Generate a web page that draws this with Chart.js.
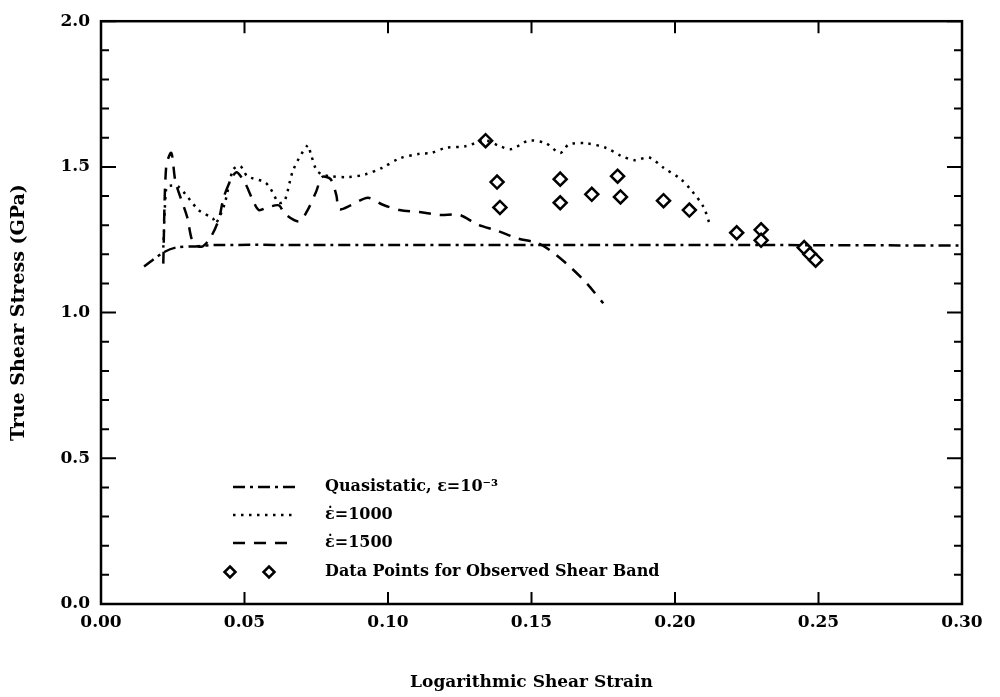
<!DOCTYPE html>
<html>
<head>
<meta charset="utf-8">
<script src="https://cdn.jsdelivr.net/npm/chart.js@4.4.1/dist/chart.umd.min.js"></script>
<style>
  html, body { margin: 0; padding: 0; background: #fff; }
  #wrap { width: 1000px; height: 697px; }
</style>
</head>
<body>
<div id="wrap"><canvas id="grafico" width="1000" height="697"></canvas></div>
<script>
// quasistatic curve
const quasiX = [0.015, 0.0217, 0.026, 0.034, 0.040, 0.080, 0.150, 0.220, 0.300];
const quasiY = [1.158, 1.206, 1.223, 1.228, 1.232, 1.232, 1.232, 1.232, 1.230];

// strain rate 1000
const taxa1000X = [0.0217, 0.0227, 0.0238, 0.027, 0.034, 0.039, 0.040, 0.043, 0.046, 0.0485,
  0.051, 0.057, 0.059, 0.062, 0.064, 0.067, 0.072, 0.073, 0.075, 0.077,
  0.080, 0.086, 0.092, 0.098, 0.104, 0.111, 0.115, 0.120, 0.127, 0.134,
  0.139, 0.143, 0.149, 0.155, 0.160, 0.163, 0.169, 0.176, 0.181, 0.186,
  0.191, 0.196, 0.202, 0.206, 0.210, 0.212];
const taxa1000Y = [1.223, 1.426, 1.435, 1.432, 1.352, 1.323, 1.306, 1.371, 1.490, 1.503,
  1.468, 1.448, 1.426, 1.377, 1.384, 1.490, 1.574, 1.548, 1.490, 1.474,
  1.468, 1.465, 1.474, 1.497, 1.529, 1.545, 1.548, 1.565, 1.571, 1.590,
  1.571, 1.561, 1.590, 1.581, 1.548, 1.577, 1.581, 1.565, 1.539, 1.523,
  1.532, 1.497, 1.458, 1.416, 1.361, 1.306];

// strain rate 1500
const taxa1500X = [0.0217, 0.0227, 0.0245, 0.026, 0.030, 0.032, 0.035, 0.038, 0.041, 0.043,
  0.047, 0.050, 0.053, 0.055, 0.058, 0.062, 0.064, 0.069, 0.072, 0.075,
  0.077, 0.080, 0.082, 0.083, 0.087, 0.093, 0.098, 0.104, 0.111, 0.118,
  0.125, 0.131, 0.138, 0.145, 0.152, 0.157, 0.163, 0.169, 0.175];
const taxa1500Y = [1.168, 1.500, 1.548, 1.448, 1.329, 1.242, 1.226, 1.255, 1.319, 1.403,
  1.481, 1.448, 1.384, 1.352, 1.361, 1.368, 1.339, 1.313, 1.352, 1.416,
  1.465, 1.458, 1.403, 1.355, 1.368, 1.394, 1.371, 1.352, 1.345, 1.335,
  1.335, 1.303, 1.281, 1.255, 1.239, 1.210, 1.161, 1.103, 1.032];

// observed shear band points
const bandaX = [0.134, 0.138, 0.139, 0.160, 0.160, 0.171, 0.180, 0.181, 0.196, 0.205,
  0.2215, 0.230, 0.230, 0.245, 0.247, 0.249];
const bandaY = [1.590, 1.448, 1.361, 1.458, 1.377, 1.406, 1.468, 1.397, 1.384, 1.352,
  1.274, 1.284, 1.248, 1.223, 1.200, 1.180];

const rotulos = ["Quasistatic, \u03B5=10\u207B\u00B3", "\u03B5\u0307=1000", "\u03B5\u0307=1500",
  "Data Points for Observed Shear Band"];

const fonte = "'DejaVu Serif', 'Liberation Serif', serif";

function pares(xs, ys) {
  return xs.map((x, i) => ({ x: x, y: ys[i] }));
}

function ehMaior(v, passo) {
  return Math.abs(v / passo - Math.round(v / passo)) < 1e-6;
}

// frame + inward ticks, like the original plot
const molduraPlugin = {
  id: "moldura",
  afterDraw(chart) {
    const ctx = chart.ctx;
    const a = chart.chartArea;
    const sx = chart.scales.x, sy = chart.scales.y;
    ctx.save();
    ctx.strokeStyle = "#000";
    ctx.lineWidth = 2.5;
    ctx.strokeRect(a.left, a.top, a.right - a.left, a.bottom - a.top);
    ctx.lineWidth = 2;
    ctx.beginPath();
    sy.ticks.forEach(t => {
      const py = sy.getPixelForValue(t.value);
      const len = ehMaior(t.value, 0.5) ? 15 : 8;
      ctx.moveTo(a.left, py); ctx.lineTo(a.left + len, py);
      ctx.moveTo(a.right, py); ctx.lineTo(a.right - len, py);
    });
    sx.ticks.forEach(t => {
      const px = sx.getPixelForValue(t.value);
      ctx.moveTo(px, a.bottom); ctx.lineTo(px, a.bottom - 12);
      ctx.moveTo(px, a.top); ctx.lineTo(px, a.top + 12);
    });
    ctx.stroke();
    ctx.restore();
  }
};

// legend drawn inside the plot area (lower left)
const legendaPlugin = {
  id: "legendaInterna",
  afterDraw(chart) {
    const ctx = chart.ctx;
    const linhasY = [487, 515, 543, 572];
    ctx.save();
    ctx.fillStyle = "#000";
    ctx.strokeStyle = "#000";
    ctx.font = "bold 16px " + fonte;
    ctx.textBaseline = "middle";
    chart.data.datasets.forEach((ds, i) => {
      const y = linhasY[i];
      if (i < 3) {
        ctx.lineWidth = ds.borderWidth;
        ctx.setLineDash(ds.borderDash);
        ctx.beginPath();
        ctx.moveTo(233, y); ctx.lineTo(296, y);
        ctx.stroke();
        ctx.setLineDash([]);
      } else {
        ctx.lineWidth = 2.5;
        [230, 269].forEach(cx => {
          ctx.beginPath();
          ctx.moveTo(cx, y - 5.5); ctx.lineTo(cx + 5.5, y);
          ctx.lineTo(cx, y + 5.5); ctx.lineTo(cx - 5.5, y);
          ctx.closePath();
          ctx.stroke();
        });
      }
      ctx.fillText(ds.label, 325, y);
    });
    ctx.restore();
  }
};

function plotarGrafico(idGrafico) {
  const ctx = document.getElementById(idGrafico).getContext("2d");
  return new Chart(ctx, {
    type: "scatter",
    data: {
      datasets: [
        {
          label: rotulos[0],
          data: pares(quasiX, quasiY),
          showLine: true,
          borderColor: "#000",
          borderWidth: 2.5,
          borderDash: [12, 5, 3, 5],
          pointRadius: 0,
          tension: 0.3,
        },
        {
          label: rotulos[1],
          data: pares(taxa1000X, taxa1000Y),
          showLine: true,
          borderColor: "#000",
          borderWidth: 2.5,
          borderDash: [2.5, 5.5],
          pointRadius: 0,
          tension: 0.3,
        },
        {
          label: rotulos[2],
          data: pares(taxa1500X, taxa1500Y),
          showLine: true,
          borderColor: "#000",
          borderWidth: 2.5,
          borderDash: [12, 9],
          pointRadius: 0,
          tension: 0.3,
        },
        {
          label: rotulos[3],
          data: pares(bandaX, bandaY),
          showLine: false,
          pointStyle: "rectRot",
          pointRadius: 6.5,
          pointBorderWidth: 2.5,
          pointBorderColor: "#000",
          pointBackgroundColor: "#fff",
        },
      ],
    },
    options: {
      responsive: false,
      animation: false,
      devicePixelRatio: 1,
      layout: { padding: { top: 18, right: 38, left: 0, bottom: 0 } },
      plugins: { legend: { display: false }, tooltip: { enabled: false } },
      scales: {
        x: {
          type: "linear",
          min: 0,
          max: 0.3,
          afterFit: s => { s.height = 93; },
          grid: { display: false, drawTicks: false },
          border: { display: false },
          ticks: {
            stepSize: 0.05,
            padding: 8,
            color: "#000",
            font: { family: fonte, size: 17, weight: "bold" },
            callback: v => v.toFixed(2),
          },
          title: {
            display: true,
            text: "Logarithmic Shear Strain",
            color: "#000",
            font: { family: fonte, size: 17, weight: "bold" },
            padding: { top: 0, bottom: 4 },
          },
        },
        y: {
          type: "linear",
          min: 0,
          max: 2,
          afterFit: s => { s.width = 101; },
          grid: { display: false, drawTicks: false },
          border: { display: false },
          ticks: {
            stepSize: 0.1,
            autoSkip: false,
            padding: 11,
            color: "#000",
            font: { family: fonte, size: 17, weight: "bold" },
            callback: v => (ehMaior(v, 0.5) ? v.toFixed(1) : ""),
          },
          title: {
            display: true,
            text: "True Shear Stress (GPa)",
            color: "#000",
            font: { family: fonte, size: 19, weight: "bold" },
            padding: { top: 8, bottom: 0 },
          },
        },
      },
    },
    plugins: [molduraPlugin, legendaPlugin],
  });
}

plotarGrafico("grafico");
</script>
</body>
</html>
